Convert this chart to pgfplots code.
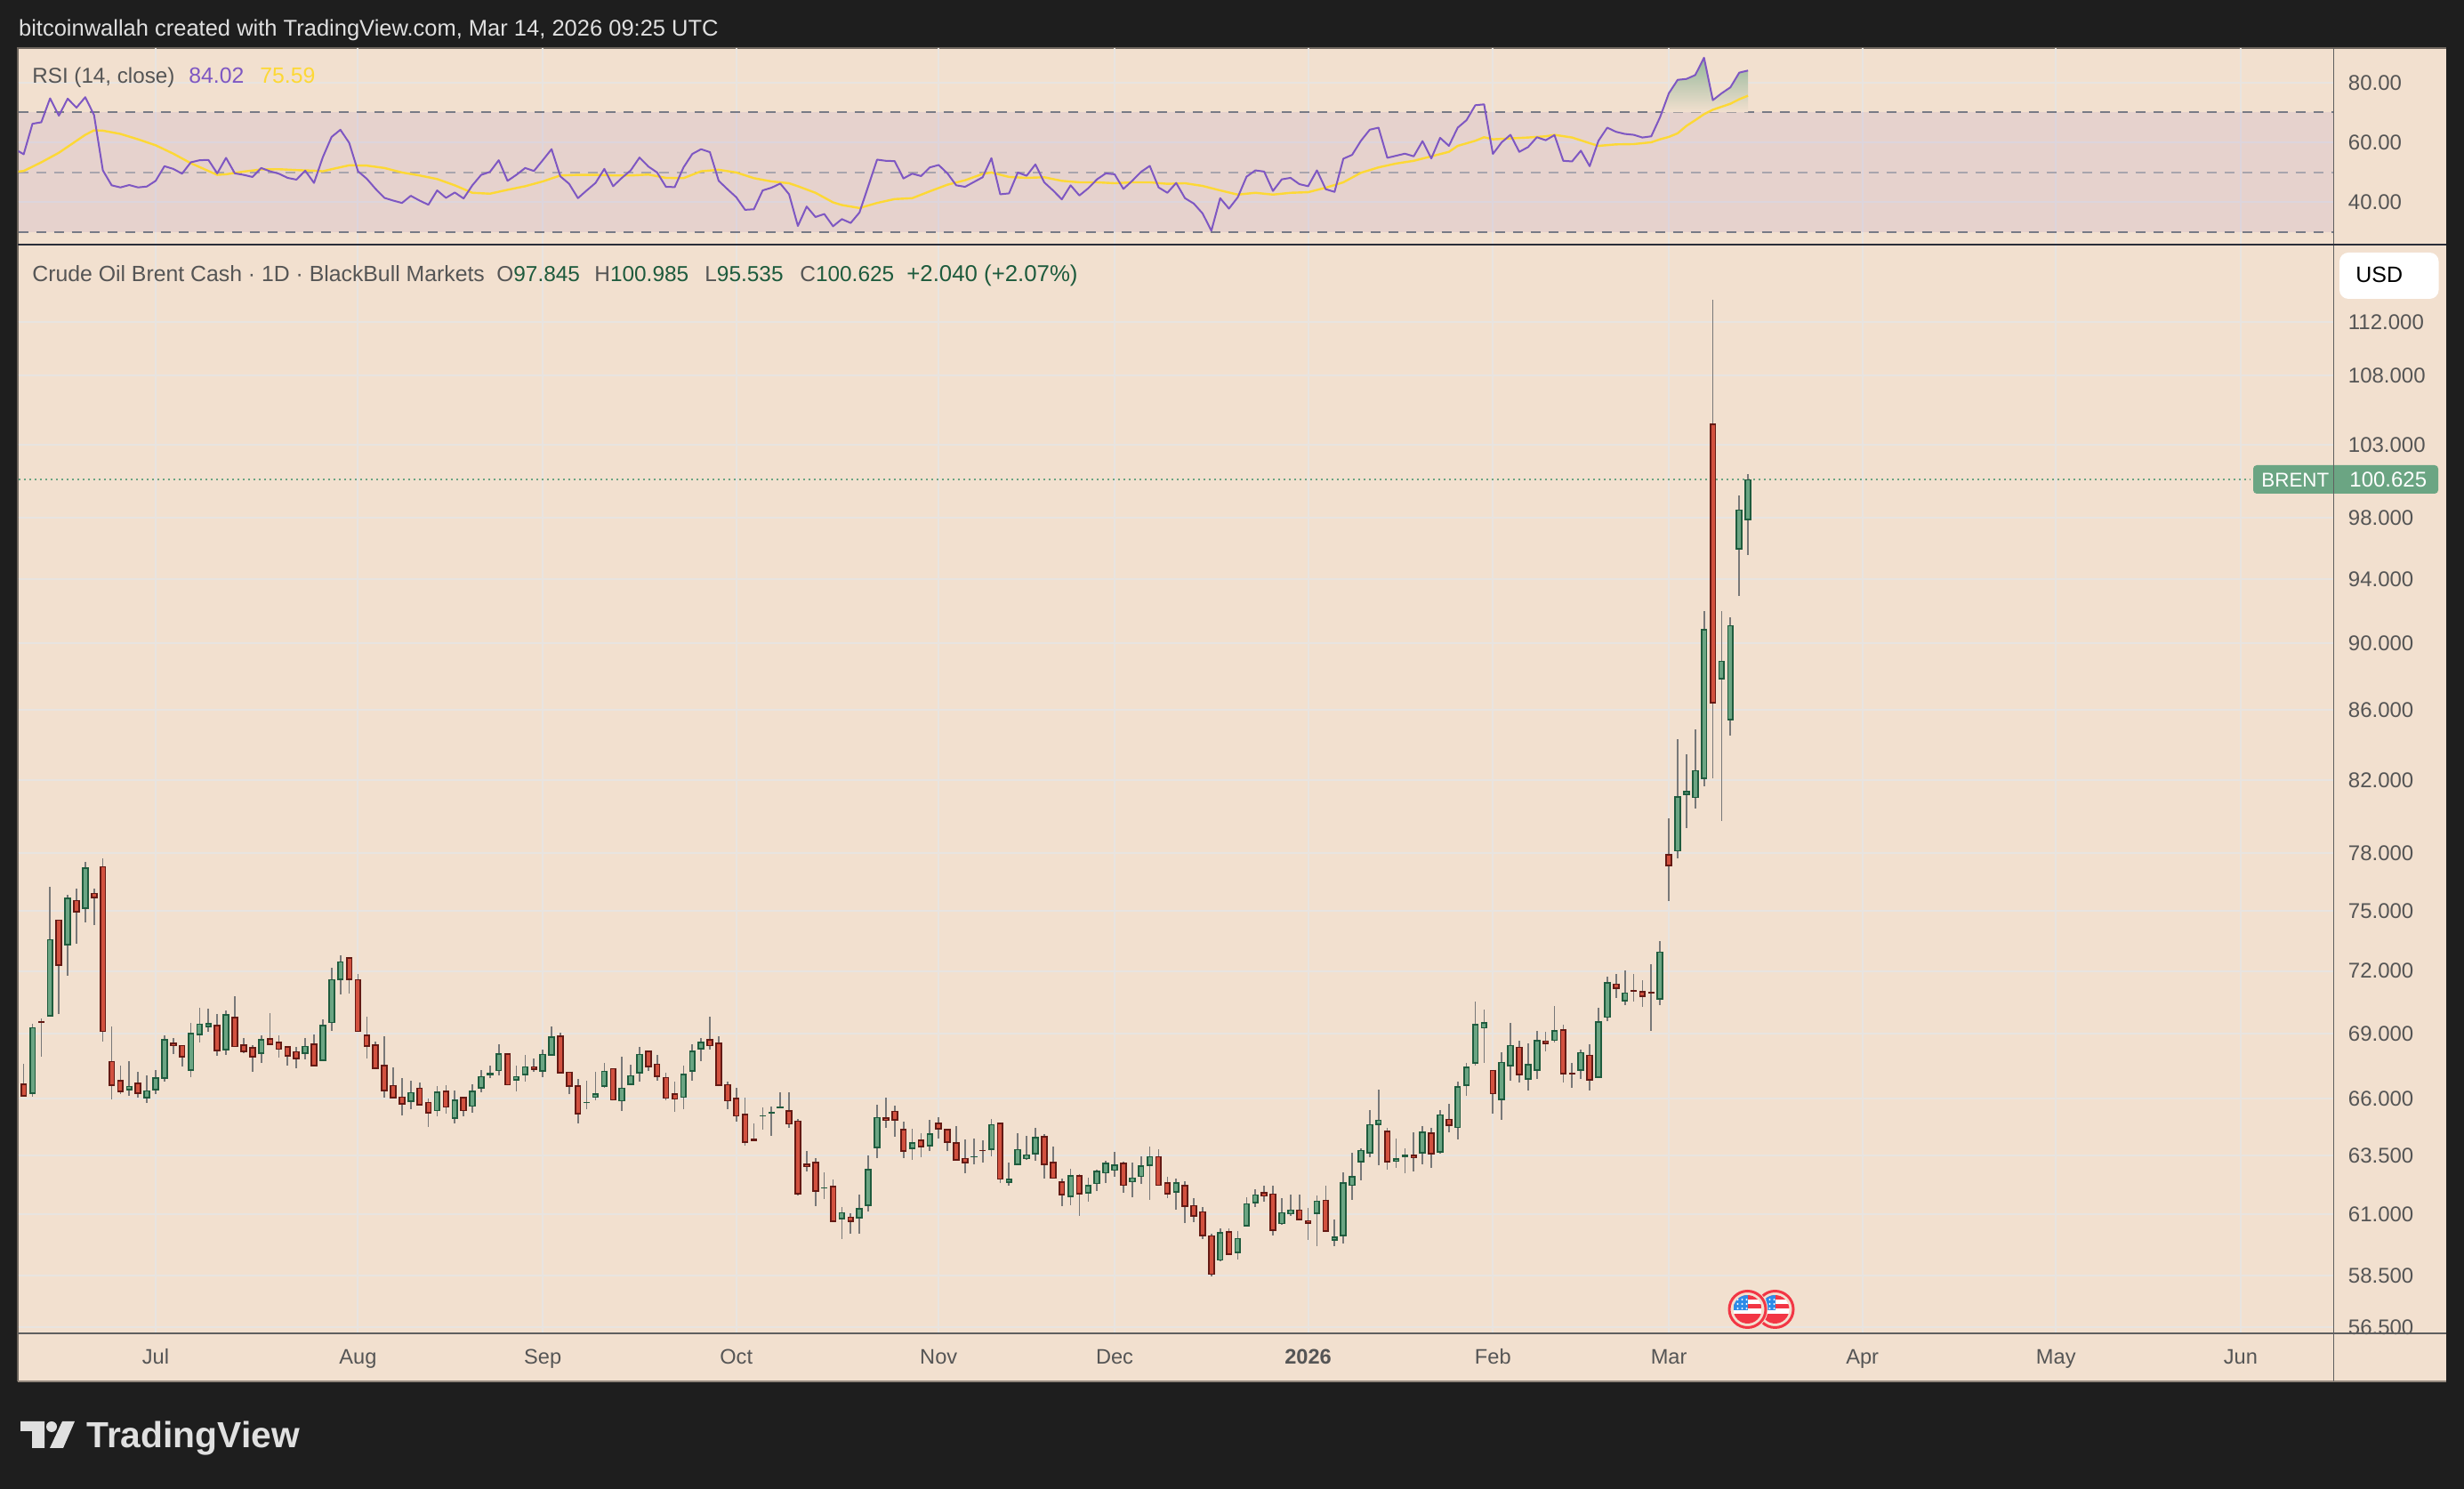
\documentclass[border=0pt]{standalone}
\usepackage{fontspec}
\setmainfont{Liberation Sans}
\usepackage{pgfplots}
\usepackage{pgfplotstable}
\pgfplotsset{compat=1.18}
\definecolor{frame}{HTML}{1E1E1E}
\definecolor{paper}{HTML}{F2E0CF}
\definecolor{gridc}{HTML}{E8E4E0}
\definecolor{labelc}{HTML}{555555}
\definecolor{axisc}{HTML}{5F5F5F}
\definecolor{divc}{HTML}{2A2E39}
\definecolor{wickc}{HTML}{787878}
\definecolor{upfill}{HTML}{6BA583}
\definecolor{updark}{HTML}{1F5C3E}
\definecolor{dnfill}{HTML}{D2513F}
\definecolor{dndark}{HTML}{641A14}
\definecolor{rsic}{HTML}{7E57C2}
\definecolor{mac}{HTML}{FDD835}
\definecolor{dashA}{HTML}{787B86}
\definecolor{dashB}{HTML}{A8A5AD}
\definecolor{valc}{HTML}{1E5B3D}
\definecolor{flagred}{HTML}{F23645}
\definecolor{flagblue}{HTML}{2E8BE8}
\newcommand\fs[1]{\fontsize{#1}{#1}\selectfont}

\pgfplotstableread{
i o h l c
-16 66.18 66.65 66.04 66.51
-14 66.22 69.47 66.08 69.31
-12 69.80 76.23 69.80 73.58
-10 73.28 75.83 71.76 75.68
-8 75.11 77.54 74.42 77.25
-3 66.38 67.73 66.12 66.59
-1 66.01 67.08 65.80 66.39
0 66.38 67.32 66.20 66.96
1 66.91 68.92 66.77 68.74
4 67.27 69.52 66.97 69.03
5 68.93 70.21 68.59 69.47
6 69.30 70.17 69.09 69.50
8 68.20 70.08 67.99 69.93
12 68.04 68.92 67.62 68.74
17 68.04 68.78 67.78 68.42
19 67.72 69.67 67.72 69.42
20 69.49 72.15 69.13 71.61
21 71.56 72.77 70.85 72.49
29 65.86 66.81 65.53 66.31
32 65.44 66.56 65.23 66.34
34 65.09 66.39 64.92 65.96
36 65.64 66.64 65.39 66.38
37 66.45 67.32 66.31 67.03
38 67.06 67.49 66.92 67.19
39 67.25 68.51 67.05 68.09
41 66.81 67.49 66.35 67.03
42 67.06 67.98 66.76 67.48
44 67.22 68.23 66.97 68.05
45 67.95 69.34 67.95 68.86
49 65.80 66.84 65.55 65.85
50 66.04 67.21 65.95 66.26
51 66.53 67.62 66.48 67.28
53 65.88 67.90 65.47 66.50
54 66.61 67.53 66.61 67.07
55 67.14 68.35 66.76 68.05
60 66.04 67.49 65.55 67.15
61 67.22 68.51 66.80 68.21
62 68.25 68.80 67.70 68.62
69 65.21 65.63 64.64 65.26
70 65.33 65.67 64.36 65.43
71 65.56 66.31 65.56 65.67
76 62.09 62.78 61.63 62.15
78 60.79 61.30 60.00 61.10
80 60.83 61.85 60.20 61.28
81 61.35 63.52 61.11 62.92
82 63.82 65.72 63.38 65.19
86 63.78 64.68 63.33 64.07
88 63.90 65.04 63.69 64.47
93 63.43 64.24 63.12 63.48
95 63.74 65.12 63.45 64.87
97 62.34 63.19 62.19 62.51
98 63.09 64.48 63.09 63.79
99 63.34 64.36 63.30 63.55
100 63.55 64.72 63.26 64.31
104 61.72 62.93 61.37 62.66
106 61.87 62.56 61.52 62.25
107 62.27 62.89 61.97 62.84
108 62.72 63.26 62.34 63.18
109 62.84 63.65 62.60 63.10
111 62.35 63.19 61.71 62.56
112 62.57 63.45 62.30 63.07
113 63.05 63.89 61.59 63.48
116 61.90 62.52 61.22 62.36
121 59.11 60.42 59.07 60.26
123 59.41 60.31 59.14 60.04
124 60.50 61.71 60.50 61.47
125 61.46 62.04 61.30 61.84
128 60.60 61.67 60.56 61.10
129 61.00 61.85 60.96 61.21
132 61.01 61.78 59.69 61.58
134 59.92 60.78 59.69 60.08
135 60.10 62.78 59.80 62.36
136 62.20 63.61 61.59 62.62
137 63.20 63.81 62.45 63.75
138 63.58 65.48 63.41 64.87
139 64.84 66.41 63.08 65.08
141 63.23 64.24 62.97 63.38
142 63.41 63.81 62.75 63.53
144 63.58 64.80 63.12 64.55
146 63.61 65.48 63.57 65.31
148 64.70 66.77 64.20 66.57
149 66.58 67.62 66.12 67.45
150 67.59 70.50 67.50 69.46
151 69.23 70.11 67.62 69.54
153 65.93 68.11 65.04 67.69
154 67.47 69.51 66.81 68.46
156 66.86 68.55 66.36 67.57
157 67.27 69.13 66.89 68.70
159 68.65 70.29 68.59 69.16
162 67.27 68.27 66.89 68.14
164 66.95 70.20 66.95 69.59
165 69.74 71.74 69.60 71.47
167 70.51 72.04 70.33 70.96
171 70.60 73.47 70.33 72.97
173 78.11 84.30 77.75 81.08
174 81.14 83.42 79.38 81.40
175 80.99 84.87 80.39 82.55
176 82.05 92.00 81.66 90.89
178 87.79 92.00 79.76 88.93
179 85.38 91.60 84.51 91.12
180 95.91 99.49 92.94 98.585
181 97.845 100.985 95.535 100.625
}\uptable

\pgfplotstableread{
i o h l c
-15 66.70 67.59 66.11 66.11
-13 69.60 69.71 67.92 69.52
-11 74.57 74.57 69.90 72.25
-9 75.58 76.14 73.35 74.93
-7 75.95 76.14 74.29 75.66
-6 77.34 77.77 68.64 69.06
-5 67.73 69.34 65.97 66.58
-4 66.86 67.49 66.20 66.30
-2 66.72 67.24 66.04 66.22
2 68.58 68.78 68.03 68.43
3 68.46 68.46 67.46 67.89
7 69.42 69.90 67.95 68.16
9 69.80 70.79 68.36 68.36
10 68.50 68.78 68.07 68.12
11 68.36 68.46 67.22 67.88
13 68.78 69.95 68.45 68.45
14 68.62 68.92 67.86 68.24
15 68.41 68.41 67.50 67.92
16 68.18 68.35 67.38 67.80
18 68.54 68.95 67.47 67.47
22 72.67 72.67 70.89 71.56
23 71.61 71.84 69.06 69.06
24 68.95 69.78 67.83 68.37
25 68.50 68.64 67.35 67.35
26 67.53 68.88 66.04 66.34
27 66.63 67.42 66.01 66.01
28 66.11 66.92 65.26 65.74
30 66.51 66.73 65.70 65.70
31 65.87 66.00 64.75 65.35
33 66.38 66.60 65.35 65.60
35 66.10 66.10 65.23 65.44
40 68.09 68.09 66.60 66.60
43 67.48 67.82 67.21 67.30
46 68.90 69.04 67.14 67.14
47 67.24 67.24 66.23 66.53
48 66.62 66.88 64.92 65.29
52 67.40 67.40 65.92 65.92
56 68.21 68.21 67.25 67.43
57 67.60 68.00 66.80 66.98
58 66.99 67.17 65.95 66.00
59 66.26 66.76 65.43 65.96
63 68.74 69.81 68.23 68.40
64 68.58 68.88 66.57 66.57
65 66.67 66.76 65.55 65.88
66 66.05 66.48 64.96 65.21
67 65.34 66.07 63.92 64.06
68 64.24 64.92 64.14 64.14
72 65.50 66.31 64.72 64.85
73 65.03 65.12 61.82 61.85
74 63.15 63.69 62.82 63.01
75 63.22 63.38 61.33 61.94
77 62.21 62.48 60.68 60.68
79 60.92 61.07 60.19 60.68
83 65.17 66.04 64.72 65.02
84 65.47 65.68 64.32 65.03
85 64.67 64.99 63.38 63.67
87 64.19 64.48 63.41 63.86
89 64.93 65.16 64.24 64.62
90 64.67 64.67 63.69 64.06
91 64.07 64.80 63.28 63.28
92 63.40 64.20 62.75 63.17
94 63.75 64.16 63.19 63.70
96 64.95 64.95 62.34 62.46
101 64.35 64.44 62.52 63.09
102 63.22 63.89 62.50 62.50
103 62.40 62.52 61.33 61.79
105 62.66 62.71 60.96 61.83
110 63.18 63.23 61.89 62.20
114 63.48 63.77 62.20 62.20
115 62.36 62.60 61.67 61.83
117 62.25 62.41 60.64 61.31
118 61.40 61.67 60.67 60.92
119 61.14 61.30 59.98 60.10
120 60.15 60.20 58.49 58.54
122 60.30 60.42 59.34 59.34
126 61.95 62.19 61.52 61.75
127 61.88 62.19 60.13 60.32
130 61.21 61.85 60.76 60.76
131 60.77 61.26 59.94 60.61
133 61.62 62.19 60.28 60.28
140 64.59 64.72 62.89 63.20
143 63.53 64.52 62.82 63.38
145 64.51 64.72 62.97 63.54
147 65.11 65.76 64.52 64.80
152 67.32 67.32 65.32 66.20
155 68.38 68.68 66.73 67.07
158 68.68 69.09 68.15 68.51
160 69.20 69.43 66.73 67.11
161 67.18 67.62 66.49 67.09
163 68.01 68.51 66.36 66.82
166 71.39 71.87 70.71 71.11
168 71.06 71.87 70.50 70.97
169 71.04 71.53 70.24 70.73
170 70.97 72.31 69.13 70.89
172 77.96 79.87 75.53 77.33
177 104.51 113.71 82.09 86.38
}\downtable

\pgfplotstableread{
i v
-16 57.7
-15 56.0
-14 66.2
-13 66.7
-12 74.7
-11 68.9
-10 74.6
-9 71.6
-8 75.1
-7 69.1
-6 50.6
-5 45.6
-4 44.9
-3 45.7
-2 44.9
-1 45.2
0 47.1
1 52.0
2 51.1
3 49.5
4 53.3
5 54.0
6 54.1
7 49.6
8 54.8
9 49.6
10 49.1
11 48.4
12 51.4
13 50.3
14 49.5
15 48.1
16 47.5
17 50.5
18 46.4
19 55.0
20 61.8
21 64.2
22 59.8
23 50.3
24 47.8
25 44.4
26 41.4
27 40.5
28 39.7
29 42.1
30 40.5
31 39.1
32 43.9
33 41.4
34 43.2
35 41.2
36 45.6
37 49.1
38 50.1
39 54.0
40 47.1
41 49.1
42 51.4
43 50.4
44 54.0
45 57.7
46 48.6
47 46.1
48 41.3
49 43.9
50 46.4
51 51.1
52 45.3
53 48.1
54 50.6
55 54.9
56 51.9
57 49.9
58 45.1
59 45.0
60 51.6
61 56.1
62 57.7
63 56.7
64 47.1
65 44.3
66 41.6
67 37.4
68 37.6
69 43.9
70 44.8
71 46.2
72 42.6
73 32.0
74 38.5
75 35.0
76 36.0
77 31.9
78 34.3
79 33.0
80 36.5
81 45.3
82 54.2
83 53.8
84 53.7
85 47.9
86 49.5
87 48.7
88 51.6
89 52.4
90 49.6
91 45.6
92 45.1
93 46.7
94 48.3
95 54.7
96 42.6
97 42.9
98 49.9
99 48.8
100 52.6
101 46.6
102 43.9
103 40.9
104 45.6
105 42.2
106 44.6
107 47.6
108 49.6
109 49.3
110 44.4
111 47.1
112 50.1
113 52.1
114 44.9
115 43.1
116 46.4
117 41.3
118 39.5
119 36.2
120 30.4
121 41.3
122 37.8
123 41.6
124 48.5
125 50.6
126 50.2
127 43.7
128 47.6
129 48.1
130 46.0
131 45.3
132 50.6
133 44.3
134 43.4
135 54.5
136 55.8
137 60.5
138 64.2
139 64.9
140 54.8
141 55.5
142 56.2
143 55.3
144 60.4
145 54.6
146 61.5
147 58.8
148 64.9
149 67.4
150 72.4
151 72.7
152 56.1
153 60.0
154 62.5
155 56.8
156 58.4
157 61.7
158 60.7
159 62.4
160 53.8
161 53.6
162 57.2
163 52.0
164 60.5
165 64.9
166 63.5
167 62.8
168 62.5
169 61.6
170 62.0
171 68.4
172 76.4
173 80.9
174 81.2
175 82.5
176 88.3
177 74.1
178 76.4
179 78.4
180 83.3
181 84.02
}\rsitable

\pgfplotstableread{
i v
-16 50.1
-15 50.4
-13 53.3
-11 56.5
-9 60.5
-8 62.5
-7 64.0
-6 63.9
-4 62.8
-2 61.0
0 59.0
2 56.2
4 53.0
6 50.4
7 49.1
8 49.3
10 50.2
12 50.9
14 51.0
16 50.7
18 50.5
19 50.3
20 51.0
22 52.3
24 52.2
26 51.4
28 49.9
30 48.9
32 47.7
34 45.6
36 43.1
38 42.8
40 44.1
42 45.3
44 46.9
46 48.9
48 49.1
50 49.1
52 48.9
54 48.9
56 49.2
58 48.1
60 48.0
62 50.3
64 50.8
66 49.9
68 48.0
70 46.9
72 46.3
73 45.3
75 43.1
77 39.9
78 39.0
80 38.0
82 39.7
84 41.0
86 41.3
88 43.6
90 45.8
92 47.3
94 49.4
95 49.9
97 48.4
99 48.1
101 48.3
103 47.1
105 46.6
107 46.6
109 46.3
111 46.6
113 46.6
115 46.1
117 46.3
119 45.4
121 43.9
123 42.5
125 43.1
127 42.5
129 43.1
131 43.3
133 44.8
135 46.6
137 49.8
139 51.6
141 52.9
143 53.8
145 55.3
147 56.8
148 58.8
150 60.5
151 61.7
152 61.0
154 61.3
156 61.6
158 62.0
159 62.5
161 61.6
163 59.7
164 58.8
166 59.3
168 59.4
170 60.0
171 61.0
172 61.8
173 63.0
174 65.5
175 67.4
176 69.4
177 70.9
178 71.9
179 72.9
180 74.4
181 75.59
}\matable

% one candle layer: wick or body, through error bars on the log axis
\newcommand\wicks[1]{%
 \addplot[draw=none, mark=none, forget plot,
   error bars/.cd, y dir=both, y explicit, error mark=none,
   error bar style={draw=wickc, line width=0.85pt, solid}]
  table[x=i, y=c, y error plus expr=\thisrow{h}-\thisrow{c}, y error minus expr=\thisrow{c}-\thisrow{l}] {#1};}
\newcommand\bodies[5]{% table, top col, bottom col, dark, fill
 \addplot[draw=none, mark=none, forget plot,
   error bars/.cd, y dir=minus, y explicit, error mark=none,
   error bar style={draw=#4, line width=3.75pt, solid}]
  table[x=i, y=#2, y error minus expr=\thisrow{#2}-\thisrow{#3}] {#1};
 \addplot[draw=none, mark=none, forget plot,
   error bars/.cd, y dir=minus, y explicit, error mark=none,
   error bar style={draw=#5, line width=2pt, solid}]
  table[x=i, y expr=\thisrow{#2}/1.00103, y error minus expr={max(0,\thisrow{#2}/1.00103-\thisrow{#3}*1.00103)}] {#1};}

\pgfplotsset{tvaxis/.style={
  scale only axis, width=1301.5pt,
  xmin=-15.62, xmax=247.57,
  xtick={0,23,44,66,89,109,131,152,172,194,216,237},
  axis line style={draw=none},
  major tick length=0pt, tick style={draw=none},
  grid=major, major grid style={draw=gridc, line width=1pt},
  clip=true,
  yticklabel pos=right,
  yticklabel style={anchor=west, inner sep=0pt, xshift=8pt, text=labelc, font=\fs{12}},
}}

\newcommand\usflag[2]{%
 \begin{scope}[shift={(#1,#2)}]
  \fill[paper] (0,0) circle (23);
  \draw[flagred, line width=1.5pt] (0,0) circle (20.5);
  \begin{scope}
   \clip (0,0) circle (16);
   \fill[white] (-16,-16) rectangle (16,16);
   \fill[flagred] (-16,-16) rectangle (16,-11);
   \fill[flagred] (-16,-6) rectangle (16,-1);
   \fill[flagred] (-16,5) rectangle (16,16);
   \fill[flagblue] (-16,-16) rectangle (0,1);
   \foreach \a in {-11,-6,-1}{\foreach \b in {-11,-6,-1}{\fill[white] (\a,\b) circle (1.2);}}
  \end{scope}
 \end{scope}}

\begin{document}
\begin{tikzpicture}
\useasboundingbox (0pt,0pt) rectangle (1385pt,837pt);
\begin{scope}[x=0.5pt,y=-0.5pt,shift={(0pt,837pt)}]
 \fill[frame] (0,0) rectangle (2770,1674);
 \fill[paper] (20,54) rectangle (2749.5,1553);
 \draw[color=black!55!paper, line width=0.75pt] (20,1553) -- (20,54) -- (2749.5,54);
 \draw[color=black!40!paper, line width=0.75pt] (20,1553) -- (2749.5,1553);
\end{scope}

% RSI pane
\begin{axis}[tvaxis, at={(10.25pt,699.5pt)}, anchor=south west, height=110.5pt,
  ymin=25.77, ymax=91.55, ytick={40,60,80}, yticklabels={40.00,60.00,80.00},
  xticklabels={}]
 \addplot[draw=none, fill=rsic, fill opacity=0.1, forget plot] coordinates {(-15.62,30)(247.57,30)(247.57,70)(-15.62,70)} -- cycle;
 \addplot[draw=dashB, line width=1pt, dash pattern=on 5.5pt off 4.5pt, forget plot] coordinates {(-15.62,50)(247.57,50)};
 \addplot[draw=dashA, line width=1pt, dash pattern=on 5.5pt off 4.5pt, forget plot] coordinates {(-15.62,70)(247.57,70)};
 \addplot[draw=dashA, line width=1pt, dash pattern=on 5.5pt off 4.5pt, forget plot] coordinates {(-15.62,30)(247.57,30)};
 \addplot[draw=none, top color=upfill!70!paper, bottom color=paper, forget plot] coordinates {(171.2,70)(172,76.4)(173,80.9)(174,81.2)(175,82.5)(176,88.3)(177,74.1)(178,76.4)(179,78.4)(180,83.3)(181,84.02)(181,70)} -- cycle;
 \addplot[draw=mac, line width=1.2pt, mark=none] table[x=i,y=v] {\matable};
 \addplot[draw=rsic, line width=1pt, mark=none, line join=round] table[x=i,y=v] {\rsitable};
\end{axis}

% price pane
\begin{axis}[tvaxis, at={(10.25pt,87.5pt)}, anchor=south west, height=612pt,
  ymode=log, ymin=56.26, ymax=118.06,
  ytick={56.5,58.5,61,63.5,66,69,72,75,78,82,86,90,94,98,103,108,112},
  yticklabels={56.500,58.500,61.000,63.500,66.000,69.000,72.000,75.000,78.000,82.000,86.000,90.000,94.000,98.000,103.000,108.000,112.000},
  minor tick num=0, yminorgrids=false,
  xticklabels={Jul,Aug,Sep,Oct,Nov,Dec,\textbf{2026},Feb,Mar,Apr,May,Jun},
  xticklabel style={anchor=base, inner sep=0pt, yshift=-17.5pt, text=labelc, font=\fs{11.8}}]
 \addplot[draw=upfill, line width=0.8pt, dash pattern=on 1pt off 2pt, forget plot] coordinates {(-15.62,100.625)(238.1,100.625)};
 \wicks{\uptable}
 \wicks{\downtable}
 \bodies{\uptable}{c}{o}{updark}{upfill}
 \bodies{\downtable}{o}{c}{dndark}{dnfill}
\end{axis}

\begin{scope}[x=0.5pt,y=-0.5pt,shift={(0pt,837pt)}]
 % price label, currency box
 \fill[upfill, rounded corners=2pt] (2533,523) rectangle (2741,555);
 \node[anchor=base west, inner sep=0pt, text=white, font=\fs{11.2}] at (2542,547.5) {BRENT};
 \node[anchor=base west, inner sep=0pt, text=white, font=\fs{12}] at (2641,547.5) {100.625};
 \fill[white, rounded corners=5pt] (2630,284) rectangle (2741.5,336);
 \node[anchor=base west, inner sep=0pt, text=black, font=\fs{12.5}] at (2648,318) {USD};
 % pane rules
 \draw[axisc, line width=0.9pt] (2623.5,54) -- (2623.5,1553);
 \draw[divc, line width=1.1pt] (20,275) -- (2749.5,275);
 \draw[axisc, line width=0.9pt] (20,1499) -- (2749.5,1499);
 % events
 \usflag{1995.5}{1472}
 \usflag{1964.5}{1472}
 % header
 \node[anchor=base west, inner sep=0pt, text=white!88!black, font=\fs{12.75}] at (20.7,40.5) {bitcoinwallah created with TradingView.com, Mar 14, 2026 09:25 UTC};
 % RSI legend
 \node[anchor=base west, inner sep=0pt, text=labelc, font=\fs{12.1}] at (36,94) {RSI (14, close)};
 \node[anchor=base west, inner sep=0pt, text=rsic, font=\fs{12.4}] at (212,94) {84.02};
 \node[anchor=base west, inner sep=0pt, text=mac, font=\fs{12.4}] at (292,94) {75.59};
 % price legend
 \node[anchor=base west, inner sep=0pt, text=labelc, font=\fs{12.4}] at (36,316.5) {Crude Oil Brent Cash · 1D · BlackBull Markets};
 \node[anchor=base west, inner sep=0pt, text=valc, font=\fs{12.2}] at (558,316.5) {\textcolor{labelc}{O}97.845};
 \node[anchor=base west, inner sep=0pt, text=valc, font=\fs{12.2}] at (668,316.5) {\textcolor{labelc}{H}100.985};
 \node[anchor=base west, inner sep=0pt, text=valc, font=\fs{12.2}] at (792,316.5) {\textcolor{labelc}{L}95.535};
 \node[anchor=base west, inner sep=0pt, text=valc, font=\fs{12.2}] at (899,316.5) {\textcolor{labelc}{C}100.625};
 \node[anchor=base west, inner sep=0pt, text=valc, font=\fs{12.9}] at (1019,316.5) {+2.040 (+2.07\%)};
 % logo
 \fill[white!88!black] (23,1598) -- (50,1598) -- (50,1628) -- (36,1628) -- (36,1609) -- (23,1609) -- cycle;
 \fill[white!88!black] (58,1604) circle (6);
 \fill[white!88!black] (70,1598) -- (84,1598) -- (71,1628) -- (56,1628) -- cycle;
 \node[anchor=base west, inner sep=0pt, text=white!88!black, font=\fs{20.4}\bfseries] at (97,1628) {TradingView};
\end{scope}
\end{tikzpicture}
\end{document}
